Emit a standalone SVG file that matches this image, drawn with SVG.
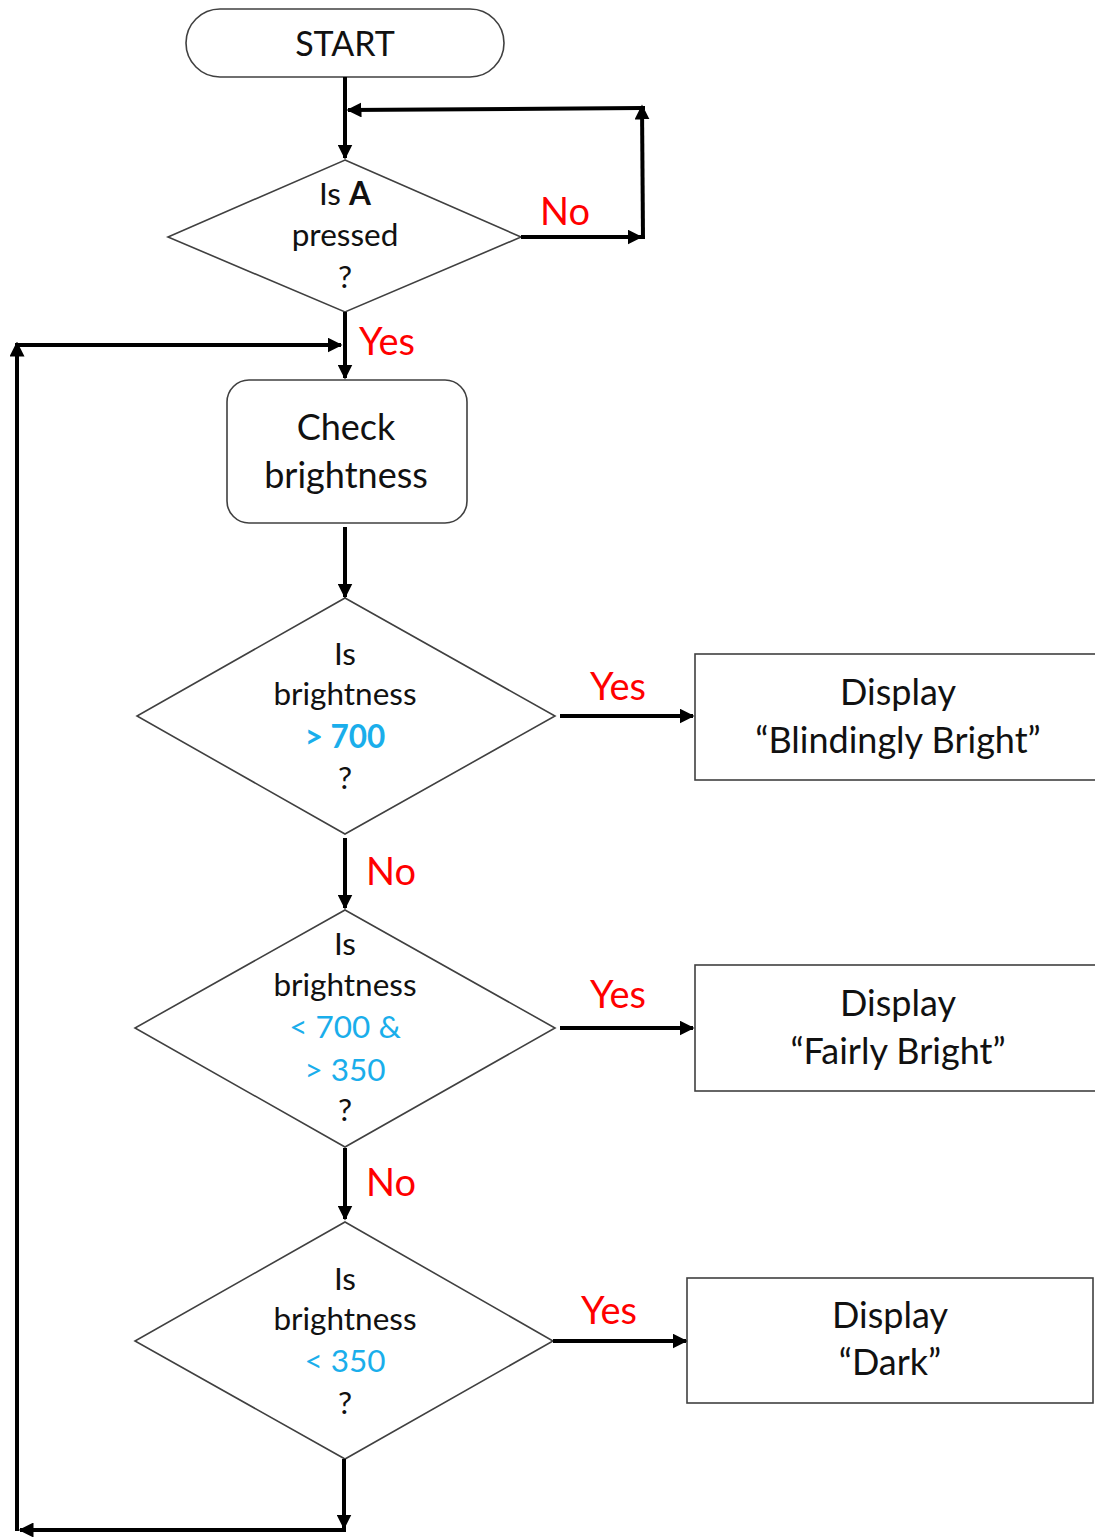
<svg xmlns="http://www.w3.org/2000/svg" width="1095" height="1537" viewBox="0 0 1095 1537">
<style>
.shape{fill:#fff;stroke:#404040;stroke-width:1.6}
.t{font-family:Lato,"Open Sans",sans-serif;fill:#111;text-anchor:middle}
.d{font-size:31.5px}
.b{font-size:36px}
.lbl{font-family:Lato,"Open Sans",sans-serif;fill:#ff0000;font-size:38px}
.blue{fill:#1aaeeb}
.con{stroke:#000;stroke-width:4;fill:none;marker-end:url(#ah)}
.plain{stroke:#000;stroke-width:4;fill:none}
</style>
<defs>
<marker id="ah" viewBox="0 0 10 10" refX="9" refY="5" markerWidth="15" markerHeight="15" markerUnits="userSpaceOnUse" orient="auto"><path d="M0,0 L10,5 L0,10 z" fill="#000"/></marker>
</defs>
<rect width="1095" height="1537" fill="#fff"/>
<g id="start"><rect class="shape" x="186" y="9" width="318" height="68" rx="34"/><text class="t" x="345" y="56" font-size="34">START</text></g>
<g id="decA"><polygon class="shape" points="345,160 521,237 345,312 168,237"/>
<text class="t d" x="345" y="205">Is <tspan font-weight="bold">A</tspan></text>
<text class="t d" x="345" y="246">pressed</text>
<text class="t d" x="345" y="288">?</text></g>
<g id="check"><rect class="shape" x="227" y="380" width="240" height="143" rx="22"/>
<text class="t b" x="346" y="440">Check</text><text class="t b" x="346" y="488">brightness</text></g>
<g id="dec700"><polygon class="shape" points="345,598 555,716 345,834 137,716"/>
<text class="t d" x="345" y="665">Is</text><text class="t d" x="345" y="705">brightness</text>
<text class="t d blue" x="345" y="748" font-weight="bold">&gt; 700</text><text class="t d" x="345" y="789">?</text></g>
<g id="dec350"><polygon class="shape" points="345,910 555,1028 345,1147 135,1028"/>
<text class="t d" x="345" y="955">Is</text><text class="t d" x="345" y="996">brightness</text>
<text class="t d blue" x="345" y="1038">&lt; 700 &amp;</text><text class="t d blue" x="345" y="1081">&gt; 350</text><text class="t d" x="345" y="1121">?</text></g>
<g id="decLow"><polygon class="shape" points="345,1222 553,1341 345,1459 135,1341"/>
<text class="t d" x="345" y="1290">Is</text><text class="t d" x="345" y="1330">brightness</text>
<text class="t d blue" x="345" y="1372">&lt; 350</text><text class="t d" x="345" y="1414">?</text></g>
<g id="box1"><rect class="shape" x="695" y="654" width="410" height="126"/>
<text class="t b" x="898" y="705">Display</text><text class="t b" x="898" y="753">“Blindingly Bright”</text></g>
<g id="box2"><rect class="shape" x="695" y="965" width="410" height="126"/>
<text class="t b" x="898" y="1016">Display</text><text class="t b" x="898" y="1064">“Fairly Bright”</text></g>
<g id="box3"><rect class="shape" x="687" y="1278" width="406" height="125"/>
<text class="t b" x="890" y="1328">Display</text><text class="t b" x="890" y="1375">“Dark”</text></g>
<g id="connectors">
<line class="con" x1="345" y1="77" x2="345" y2="158"/>
<line class="con" x1="521" y1="237" x2="641" y2="237"/>
<line class="con" x1="643" y1="239" x2="642" y2="106"/>
<line class="plain" x1="645" y1="108" x2="640" y2="108"/>
<line class="con" x1="642" y1="108" x2="348" y2="110"/>
<line class="con" x1="345" y1="312" x2="345" y2="378"/>
<line class="con" x1="17" y1="1531" x2="17" y2="343"/>
<line class="con" x1="17" y1="345" x2="341" y2="345"/>
<line class="con" x1="345" y1="527" x2="345" y2="597"/>
<line class="con" x1="560" y1="716" x2="693" y2="716"/>
<line class="con" x1="345" y1="838" x2="345" y2="908"/>
<line class="con" x1="560" y1="1028" x2="693" y2="1028"/>
<line class="con" x1="345" y1="1148" x2="345" y2="1219"/>
<line class="con" x1="553" y1="1341" x2="686" y2="1341"/>
<line class="con" x1="344" y1="1459" x2="344" y2="1528"/>
<line class="con" x1="346" y1="1530" x2="20" y2="1530"/>
<text class="lbl" x="540" y="225">No</text>
<text class="lbl" x="359" y="355">Yes</text>
<text class="lbl" x="590" y="700">Yes</text>
<text class="lbl" x="366" y="885">No</text>
<text class="lbl" x="590" y="1008">Yes</text>
<text class="lbl" x="366" y="1196">No</text>
<text class="lbl" x="581" y="1324">Yes</text>
</g>
</svg>
